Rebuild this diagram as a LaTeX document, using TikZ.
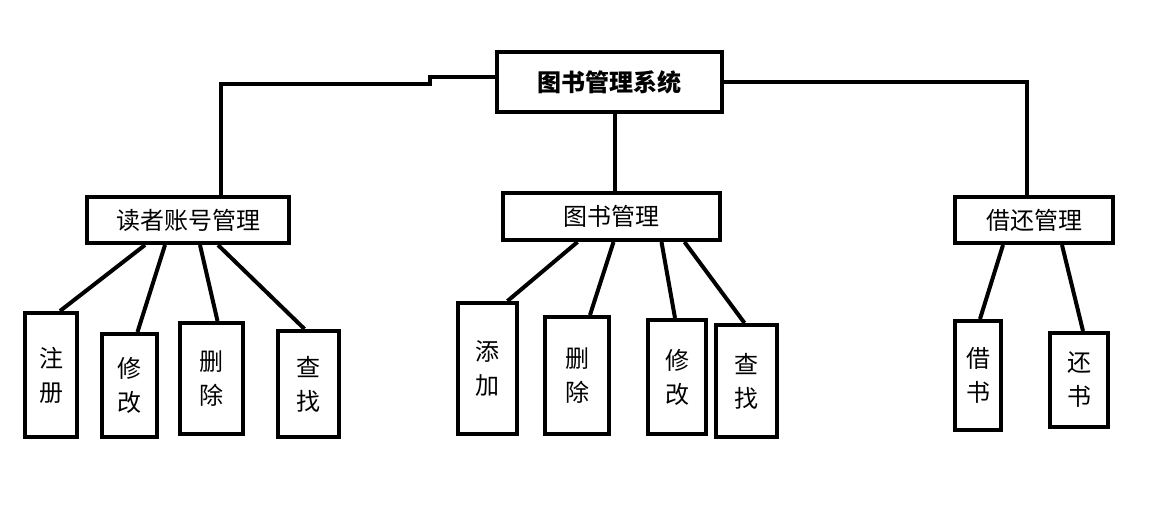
\documentclass[tikz,border=0pt]{standalone}
\usepackage{fontspec}
\setmainfont{Noto Sans CJK SC}
\usetikzlibrary{positioning}
\begin{document}
\begin{tikzpicture}[x=1pt,y=-1pt,line width=4pt]
        \tikzset{block/.style= {draw, rectangle, align=center, inner sep=0pt, font=\fontsize{24}{26}\selectfont},
        leaf/.style={block, font=\fontsize{24}{34}\selectfont},
        }
        \useasboundingbox (0,0) rectangle (1154,510);
        \node [block, minimum width=225, minimum height=60, font=\bfseries\fontsize{24}{26}\selectfont] (root) at (609.5,82) {图书管理系统};
        \node [block, minimum width=202, minimum height=46] (reader) at (188,220) {读者账号管理};
        \node [block, minimum width=217, minimum height=47] (book) at (611.5,216.5) {图书管理};
        \node [block, minimum width=158, minimum height=46] (lend) at (1034,220) {借还管理};
%% leaves
        \node [leaf, minimum width=52, minimum height=124] (r1) at (51,375) {注\\册};
        \node [leaf, minimum width=55, minimum height=103] (r2) at (129.5,385.5) {修\\改};
        \node [leaf, minimum width=63, minimum height=111] (r3) at (211.5,378.5) {删\\除};
        \node [leaf, minimum width=61, minimum height=106] (r4) at (308.5,384) {查\\找};
        \node [leaf, minimum width=59, minimum height=131] (b1) at (487.5,368.5) {添\\加};
        \node [leaf, minimum width=64, minimum height=117] (b2) at (577,375.5) {删\\除};
        \node [leaf, minimum width=58, minimum height=114] (b3) at (677,377) {修\\改};
        \node [leaf, minimum width=61, minimum height=112] (b4) at (746.5,381) {查\\找};
        \node [leaf, minimum width=46, minimum height=109] (l1) at (978,375.5) {借\\书};
        \node [leaf, minimum width=58, minimum height=94] (l2) at (1079,380) {还\\书};
%% paths
        \draw ([yshift=5]root.west) -- ++(-65,0) -- ++(0,7) -| ([xshift=33]reader.north);
        \draw ([yshift=0]root.east) -| ([xshift=-7]lend.north);
        \draw ([xshift=5]root.south) -- ([xshift=3]book.north);
        \draw ([xshift=-43]reader.south) -- ([xshift=9]r1.north);
        \draw ([xshift=-23]reader.south) -- ([xshift=8]r2.north);
        \draw ([xshift=12]reader.south) -- ([xshift=6]r3.north);
        \draw ([xshift=30]reader.south) -- ([xshift=-4]r4.north);
        \draw ([xshift=-34]book.south) -- ([xshift=20]b1.north);
        \draw ([xshift=2]book.south) -- ([xshift=13]b2.north);
        \draw ([xshift=50]book.south) -- ([xshift=-2]b3.north);
        \draw ([xshift=73]book.south) -- ([xshift=-2]b4.north);
        \draw ([xshift=-31]lend.south) -- ([xshift=2]l1.north);
        \draw ([xshift=28]lend.south) -- ([xshift=4]l2.north);
    \end{tikzpicture}
\end{document}
